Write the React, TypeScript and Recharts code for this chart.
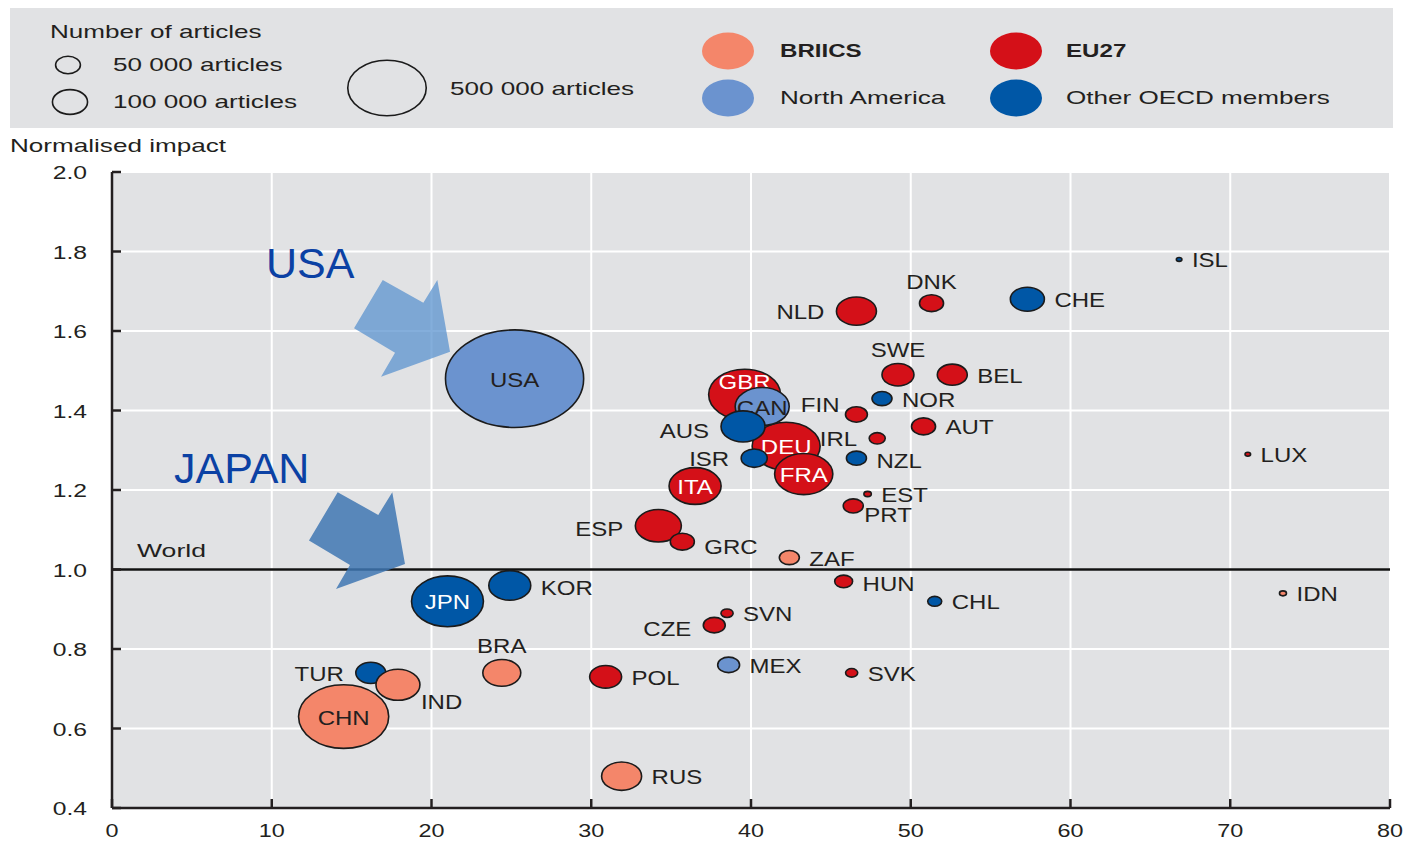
import React from "react";
import {
  CartesianGrid,
  ReferenceDot,
  ReferenceLine,
  Scatter,
  ScatterChart,
  XAxis,
  YAxis,
  ZAxis,
} from "recharts";

type Country = { code: string; collab: number; impact: number; articles: number };

// values (x: collaboration %, y: normalised impact, z: articles)
const BRIICS: Country[] = [
  { code: "CHN", collab: 14.5, impact: 0.63, articles: 660000 },
  { code: "IND", collab: 17.9, impact: 0.71, articles: 157000 },
  { code: "BRA", collab: 24.4, impact: 0.74, articles: 117000 },
  { code: "RUS", collab: 31.9, impact: 0.48, articles: 130000 },
  { code: "ZAF", collab: 42.4, impact: 1.03, articles: 32500 },
  { code: "IDN", collab: 73.3, impact: 0.94, articles: 4000 },
];

const EU27: Country[] = [
  { code: "GBR", collab: 39.6, impact: 1.44, articles: 420000 },
  { code: "DEU", collab: 42.2, impact: 1.31, articles: 375000 },
  { code: "FRA", collab: 43.3, impact: 1.24, articles: 275000 },
  { code: "ITA", collab: 36.5, impact: 1.21, articles: 220000 },
  { code: "ESP", collab: 34.2, impact: 1.11, articles: 172000 },
  { code: "GRC", collab: 35.7, impact: 1.07, articles: 47000 },
  { code: "NLD", collab: 46.6, impact: 1.65, articles: 130000 },
  { code: "DNK", collab: 51.3, impact: 1.67, articles: 47000 },
  { code: "SWE", collab: 49.2, impact: 1.49, articles: 83000 },
  { code: "BEL", collab: 52.6, impact: 1.49, articles: 73000 },
  { code: "FIN", collab: 46.6, impact: 1.39, articles: 39000 },
  { code: "AUT", collab: 50.8, impact: 1.36, articles: 47000 },
  { code: "IRL", collab: 47.9, impact: 1.33, articles: 21000 },
  { code: "PRT", collab: 46.4, impact: 1.16, articles: 32500 },
  { code: "EST", collab: 47.3, impact: 1.19, articles: 4500 },
  { code: "HUN", collab: 45.8, impact: 0.97, articles: 26000 },
  { code: "SVN", collab: 38.5, impact: 0.89, articles: 12000 },
  { code: "CZE", collab: 37.7, impact: 0.86, articles: 39000 },
  { code: "POL", collab: 30.9, impact: 0.73, articles: 83000 },
  { code: "SVK", collab: 46.3, impact: 0.74, articles: 12000 },
  { code: "LUX", collab: 71.1, impact: 1.29, articles: 2500 },
];

const NORTH_AMERICA: Country[] = [
  { code: "USA", collab: 25.2, impact: 1.48, articles: 1550000 },
  { code: "CAN", collab: 40.7, impact: 1.41, articles: 237000 },
  { code: "MEX", collab: 38.6, impact: 0.76, articles: 39000 },
];

const OTHER_OECD: Country[] = [
  { code: "JPN", collab: 21.0, impact: 0.92, articles: 420000 },
  { code: "KOR", collab: 24.9, impact: 0.96, articles: 143000 },
  { code: "TUR", collab: 16.2, impact: 0.74, articles: 73000 },
  { code: "AUS", collab: 39.5, impact: 1.36, articles: 157000 },
  { code: "ISR", collab: 40.2, impact: 1.28, articles: 55000 },
  { code: "NOR", collab: 48.2, impact: 1.43, articles: 32500 },
  { code: "NZL", collab: 46.6, impact: 1.28, articles: 32500 },
  { code: "CHL", collab: 51.5, impact: 0.92, articles: 16000 },
  { code: "CHE", collab: 57.3, impact: 1.68, articles: 94000 },
  { code: "ISL", collab: 66.8, impact: 1.78, articles: 2500 },
];

const X_TICKS = [0, 10, 20, 30, 40, 50, 60, 70, 80];
const Y_TICKS = [0.4, 0.6, 0.8, 1.0, 1.2, 1.4, 1.6, 1.8, 2.0];
const SIZE_LEGEND = [
  { label: "50 000 articles", articles: 50000 },
  { label: "100 000 articles", articles: 100000 },
  { label: "500 000 articles", articles: 500000 },
];

const COLORS = {
  briics: "#f4866a",
  eu: "#d41018",
  na: "#6b93cf",
  oecd: "#0057a6",
};

const BG = "#e1e2e4";
const INK = "#231f20";
const FONT = "'Liberation Sans', Arial, sans-serif";
const WIDE = 1.2; // country code labels are drawn a bit wide
const WIDER = 1.45; // legend / title text

// bubble area per article (px^2), bubbles are wider than tall
const Z_MAX = 1600000;
const AREA_MAX = 10930;
const ASPECT = 1.19;

type Side = "in" | "r" | "l" | "t" | "br" | "lt";
const LABEL_SIDE: Record<string, Side> = {
  USA: "in", CHN: "in", JPN: "in", GBR: "in", CAN: "in", DEU: "in", FRA: "in", ITA: "in",
  IND: "br", PRT: "br", FIN: "lt", BRA: "t", DNK: "t", SWE: "t",
  NLD: "l", ESP: "l", ISR: "l", AUS: "l", IRL: "l", CZE: "l", TUR: "l",
};
const LABEL_DY: Record<string, number> = { GBR: -13, GRC: 5, AUS: 5, CZE: 4, ESP: 3, KOR: 3, NZL: 3, HUN: 3 };

function radii(size: number) {
  const r = Math.sqrt(Math.max(size, 0) / Math.PI);
  return { rx: r * ASPECT, ry: r / ASPECT };
}

function makeBubble(fill: string, darkFill: boolean) {
  return function Bubble(props: any) {
    const { cx, cy, payload } = props;
    const size = props.size ?? Math.PI * Math.pow((props.width ?? 0) / 2, 2);
    const { rx, ry } = radii(size);
    const code: string = payload.code;
    const side = LABEL_SIDE[code] ?? "r";
    let x = cx;
    let y = cy + (LABEL_DY[code] ?? 1);
    let anchor: "start" | "middle" | "end" = "start";
    let color = INK;
    if (side === "in") {
      anchor = "middle";
      color = darkFill ? "#fff" : INK;
    } else if (side === "r") {
      x = cx + rx + 10;
    } else if (side === "l") {
      x = cx - rx - 12;
      anchor = "end";
    } else if (side === "t") {
      anchor = "middle";
      y = cy - ry - 13;
    } else if (side === "br") {
      x = cx + rx + 1;
      y = cy + ry + 2;
    } else if (side === "lt") {
      x = cx - rx - 6;
      y = cy - 9;
      anchor = "end";
    }
    return (
      <g>
        <ellipse cx={cx} cy={cy} rx={rx} ry={ry} fill={fill} stroke="#1b1b1b" strokeWidth={1.6} />
        <text
          transform={`translate(${x},${y + 7}) scale(${WIDE},1)`}
          textAnchor={anchor}
          fontSize={20}
          fontFamily={FONT}
          fill={color}
        >
          {code}
        </text>
      </g>
    );
  };
}

const ARROW = [
  [-96, -23.4],
  [-67.3, -71.7],
  [-26.7, -49],
  [-12.7, -71.7],
  [0, 0],
  [-69, 25],
  [-55, 1],
];

function arrowShape(fill: string, opacity: number) {
  return (p: any) => (
    <polygon
      points={ARROW.map(([dx, dy]) => `${p.cx + dx},${p.cy + dy}`).join(" ")}
      fill={fill}
      fillOpacity={opacity}
    />
  );
}

function noteShape(text: string) {
  return (p: any) => (
    <text x={p.cx} y={p.cy} fontSize={43} fontFamily={FONT} fill="#0b41a4">
      {text}
    </text>
  );
}

function XTick(p: any) {
  const { x, y, payload } = p;
  return (
    <g>
      <line x1={x} x2={x} y1={y - 18} y2={y - 27} stroke={INK} strokeWidth={2.5} />
      <text transform={`translate(${x},${y + 11}) scale(1.3,1)`} textAnchor="middle" fontSize={18} fontFamily={FONT} fill={INK}>
        {payload.value}
      </text>
    </g>
  );
}

function YTick(p: any) {
  const { x, y, payload } = p;
  return (
    <g>
      <line x1={x + 25} x2={x + 34} y1={y} y2={y} stroke={INK} strokeWidth={2.5} />
      <text transform={`translate(${x},${y + 7}) scale(1.3,1)`} textAnchor="end" fontSize={19} fontFamily={FONT} fill={INK}>
        {Number(payload.value).toFixed(1)}
      </text>
    </g>
  );
}

function WorldLabel(p: any) {
  const vb = p.viewBox;
  return (
    <text transform={`translate(${vb.x + 25},${vb.y - 13}) scale(1.4,1)`} fontSize={19} fontFamily={FONT} fill={INK}>
      World
    </text>
  );
}

function Header() {
  const sizes = SIZE_LEGEND.map((s) => radii((s.articles / Z_MAX) * AREA_MAX));
  const txt = (x: number, y: number, s: string, bold = false) => (
    <text
      transform={`translate(${x},${y + 6}) scale(${bold ? 1.34 : WIDER},1)`}
      fontSize={18}
      fontFamily={FONT}
      fontWeight={bold ? 700 : 400}
      fill={INK}
    >
      {s}
    </text>
  );
  return (
    <svg width={1410} height={165} style={{ position: "absolute", left: 0, top: 0 }}>
      <rect x={10} y={8} width={1383} height={120} fill={BG} />
      {txt(50, 32, "Number of articles")}
      <ellipse cx={68} cy={65} rx={sizes[0].rx} ry={sizes[0].ry} fill="none" stroke="#1b1b1b" strokeWidth={1.6} />
      {txt(113, 65, SIZE_LEGEND[0].label)}
      <ellipse cx={70} cy={102} rx={sizes[1].rx} ry={sizes[1].ry} fill="none" stroke="#1b1b1b" strokeWidth={1.6} />
      {txt(113, 102, SIZE_LEGEND[1].label)}
      <ellipse cx={387} cy={88} rx={sizes[2].rx} ry={sizes[2].ry} fill="none" stroke="#1b1b1b" strokeWidth={1.6} />
      {txt(450, 89, SIZE_LEGEND[2].label)}
      <ellipse cx={728} cy={51} rx={26} ry={18.5} fill={COLORS.briics} />
      {txt(780, 51, "BRIICS", true)}
      <ellipse cx={728} cy={98} rx={26} ry={18.5} fill={COLORS.na} />
      {txt(780, 98, "North America")}
      <ellipse cx={1016} cy={51} rx={26} ry={18.5} fill={COLORS.eu} />
      {txt(1066, 51, "EU27", true)}
      <ellipse cx={1016} cy={98} rx={26} ry={18.5} fill={COLORS.oecd} />
      {txt(1066, 98, "Other OECD members")}
      {txt(10, 146, "Normalised impact")}
    </svg>
  );
}

export default function App() {
  return (
    <div style={{ position: "absolute", left: 0, top: 0, width: 1410, height: 842, background: "#fff" }}>
      <Header />
      <div style={{ position: "absolute", left: 0, top: 0 }}>
        <ScatterChart width={1410} height={842} margin={{ top: 172, right: 20, bottom: 0, left: 0 }}>
          <CartesianGrid stroke="#fff" strokeWidth={2} fill={BG} />
          <XAxis
            type="number"
            dataKey="collab"
            domain={[0, 80]}
            ticks={X_TICKS}
            interval={0}
            height={34}
            tickSize={0}
            tickMargin={18}
            tickLine={false}
            axisLine={{ stroke: INK, strokeWidth: 2.5 }}
            tick={<XTick />}
          />
          <YAxis
            type="number"
            dataKey="impact"
            domain={[0.4, 2.0]}
            ticks={Y_TICKS}
            interval={0}
            width={112}
            tickSize={0}
            tickMargin={25}
            tickLine={false}
            axisLine={{ stroke: INK, strokeWidth: 2.5 }}
            tick={<YTick />}
          />
          <ZAxis type="number" dataKey="articles" domain={[0, Z_MAX]} range={[0, AREA_MAX]} />
          <ReferenceLine y={1} stroke="#111" strokeWidth={2.5} label={<WorldLabel />} />
          <Scatter name="EU27" data={EU27} fill={COLORS.eu} shape={makeBubble(COLORS.eu, true)} isAnimationActive={false} />
          <Scatter name="North America" data={NORTH_AMERICA} fill={COLORS.na} shape={makeBubble(COLORS.na, false)} isAnimationActive={false} />
          <Scatter name="Other OECD members" data={OTHER_OECD} fill={COLORS.oecd} shape={makeBubble(COLORS.oecd, true)} isAnimationActive={false} />
          <Scatter name="BRIICS" data={BRIICS} fill={COLORS.briics} shape={makeBubble(COLORS.briics, false)} isAnimationActive={false} />
          <ReferenceDot x={21.16} y={1.548} r={0} shape={arrowShape("#5b93cf", 0.75)} />
          <ReferenceDot x={18.34} y={1.014} r={0} shape={arrowShape("#3f77b3", 0.85)} />
          <ReferenceDot x={9.64} y={1.733} r={0} shape={noteShape("USA")} />
          <ReferenceDot x={3.88} y={1.218} r={0} shape={noteShape("JAPAN")} />
        </ScatterChart>
      </div>
    </div>
  );
}
